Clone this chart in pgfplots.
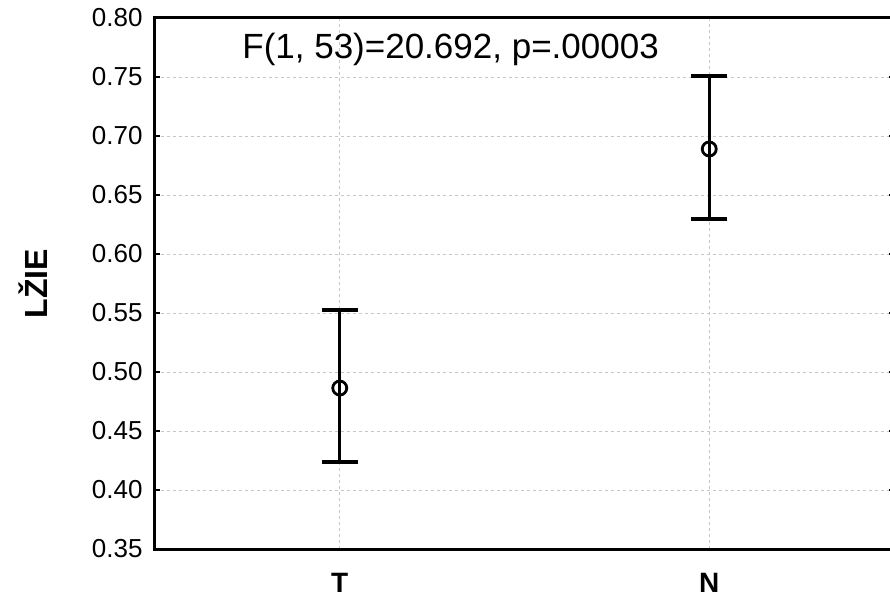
\documentclass[border=0pt]{standalone}
\usepackage{fontspec}
\setmainfont{Liberation Sans}
\usepackage{pgfplots}
\pgfplotsset{compat=1.18}
\begin{document}
\begin{tikzpicture}
\clip (-155pt,-51pt) rectangle (735pt,549pt);
\begin{axis}[
  at={(0,0)}, anchor=south west,
  scale only axis, width=739pt, height=531pt,
  xmin=-0.5, xmax=1.5, ymin=0.35, ymax=0.80,
  xtick={0,1}, xticklabels={\textbf{T},\textbf{N}},
  ytick={0.35,0.40,...,0.80},
  yticklabel style={/pgf/number format/fixed, /pgf/number format/fixed zerofill, /pgf/number format/precision=2, anchor=east, xshift=-9pt, font=\fontsize{26}{30}\selectfont},
  /pgf/number format/assume math mode=true,
  tick style={black, line width=1.5pt},
  major tick length=5pt,
  tick align=inside,
  xtick style={draw=none},
  grid=major,
  major grid style={black!22, dashed, line width=0.9pt},
  axis line style={black, line width=3pt},
  ylabel={\textbf{LŽIE}},
  ylabel style={font=\fontsize{32}{36}\selectfont, at={(-122pt,0.5)}, anchor=center},
  xticklabel style={anchor=center, yshift=-34pt, font=\fontsize{28}{32}\selectfont},
]
\addplot[black, line width=3pt, mark=o, mark size=7pt,
  mark options={fill=white, line width=2.8pt},
  only marks,
  error bars/.cd, y dir=both, y explicit,
  error bar style={line width=3.2pt},
  error mark options={rotate=90, mark size=18pt, line width=3.2pt}]
  coordinates {
  (0,0.4864) -= (0,0.0627) += (0,0.0661)
  (1,0.6890) -= (0,0.0593) += (0,0.0618)
};
\node[font=\fontsize{35}{40}\selectfont, anchor=base] at (axis cs:0.30,0.766) {F(1, 53)=20.692, p=.00003};
\end{axis}
\end{tikzpicture}
\end{document}
